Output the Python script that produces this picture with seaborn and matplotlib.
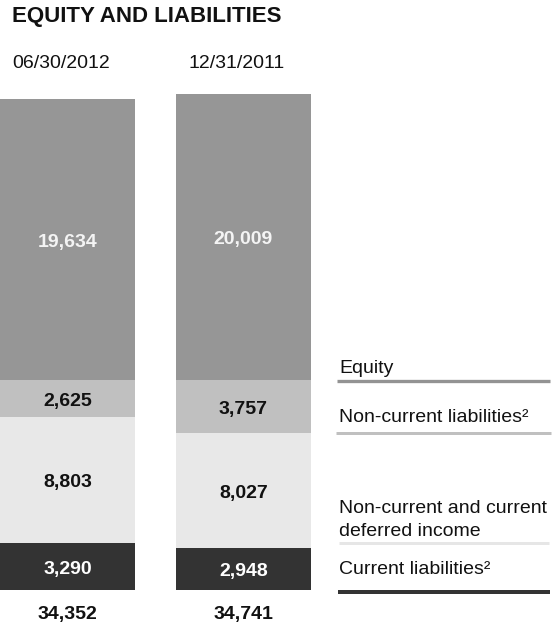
import matplotlib
matplotlib.use("Agg")
import matplotlib.pyplot as plt
import seaborn as sns
import numpy as np
import pandas as pd
from matplotlib.lines import Line2D
from matplotlib.transforms import offset_copy

# ---- data ----
periods = ["06/30/2012", "12/31/2011"]
current_liabilities = [3290, 2948]
deferred_income = [8803, 8027]
noncurrent_liabilities = [2625, 3757]
equity = [19634, 20009]
segment_names = ["Current liabilities\u00b2", "Non-current and current\ndeferred income",
                 "Non-current liabilities\u00b2", "Equity"]
title = "EQUITY AND LIABILITIES"

colors = {"current": "#333333", "deferred": "#e8e8e8", "noncurrent": "#c0c0c0", "equity": "#969696"}

sns.set_theme(style="white")
plt.rcParams["font.family"] = ["Liberation Sans", "DejaVu Sans"]

W, H = 556, 622
fig = plt.figure(figsize=(W / 100, H / 100), dpi=100)

def fx(x):
    return x / W

def fy(y):
    return 1 - y / H

base_px = 590
ax = fig.add_axes([0, fy(base_px), 1, base_px / H])

df = pd.DataFrame({
    "period": periods,
    "current": current_liabilities,
    "deferred": deferred_income,
    "noncurrent": noncurrent_liabilities,
    "equity": equity,
})
order = ["current", "deferred", "noncurrent", "equity"]
cum = df[order].cumsum(axis=1)
df["total"] = cum["equity"]

bar_w = 135 / 176
# draw from tallest (top segment) to shortest so lower segments overlay
for key in reversed(order):
    sns.barplot(x=df["period"], y=cum[key], color=colors[key], saturation=1,
                width=bar_w, errorbar=None, linewidth=0, edgecolor="none", ax=ax)

scale = 0.01428  # px per unit
ax.set_xlim(-67.5 / 176, (W - 67.5) / 176)
ax.set_ylim(0, base_px / scale)
ax.axis("off")

label_colors = {"current": "white", "deferred": "#111111", "noncurrent": "#111111", "equity": "#f4f4f4"}
trans = offset_copy(ax.transData, fig=fig, x=0, y=-7.2, units="dots")
trans_total = offset_copy(ax.transData, fig=fig, x=0, y=-29.3, units="dots")
for i in range(len(df)):
    lower = 0
    for key in order:
        val = df.loc[i, key]
        mid = lower + val / 2
        ax.text(i, mid, f"{val:,}", transform=trans, ha="center", va="baseline",
                fontsize=14, fontweight="bold", color=label_colors[key])
        lower += val
    ax.text(i, 0, f"{df.loc[i, 'total']:,}", transform=trans_total,
            ha="center", va="baseline", fontsize=14, fontweight="bold",
            color="#111111", clip_on=False)

# title and period headers
fig.text(fx(12), fy(21.7), title, fontsize=16, fontweight="bold", color="#111111",
         ha="left", va="baseline")
fig.text(fx(12), fy(68.3), periods[0], fontsize=14, color="#111111", ha="left", va="baseline")
fig.text(fx(188.3), fy(68.3), periods[1], fontsize=14, color="#111111", ha="left", va="baseline")

# legend texts with separator lines
leg = [
    (segment_names[3], 372.7, 380.7, 337, 550, 3.3, "#939393"),
    (segment_names[2], 421.7, 433.3, 336, 551, 3.0, "#c0c0c0"),
    (segment_names[1], 513.3, 543.3, 339, 549, 3.0, "#e6e6e6"),
    (segment_names[0], 574.3, 591.7, 338, 550, 4.0, "#333333"),
]
for text, base_y, line_y, x0, x1, lw, col in leg:
    lines = text.split("\n")
    for k, ln in enumerate(lines):
        fig.text(fx(339), fy(base_y + 22.4 * k), ln, fontsize=14, color="#111111",
                 ha="left", va="baseline")
    fig.add_artist(Line2D([fx(x0), fx(x1)], [fy(line_y), fy(line_y)],
                          transform=fig.transFigure, color=col, linewidth=lw * 0.72,
                          solid_capstyle="butt"))

fig.savefig("out.png", dpi=100)
